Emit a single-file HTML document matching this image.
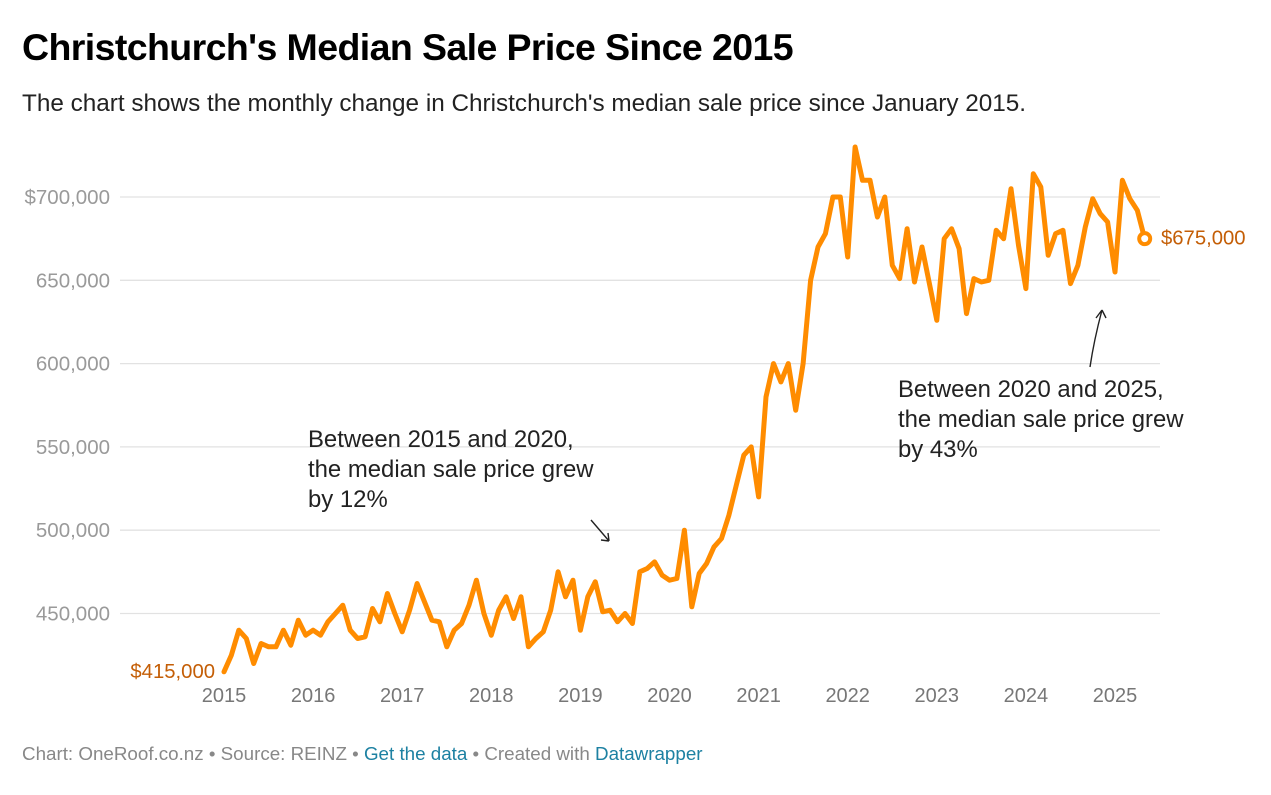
<!DOCTYPE html>
<html><head><meta charset="utf-8"><style>
body{margin:0;background:#fff;width:1271px;height:795px;overflow:hidden;font-family:"Liberation Sans",sans-serif}
#title{position:absolute;left:22px;top:26px;font-size:37.5px;font-weight:bold;color:#000;margin:0;letter-spacing:-0.6px;white-space:nowrap}
#sub{position:absolute;left:22px;top:90px;font-size:24.3px;color:#222;white-space:nowrap}
#foot{position:absolute;left:22px;top:743px;font-size:18.8px;color:#888;white-space:nowrap}
#foot a{color:#1d81a2;text-decoration:none}
</style></head><body>
<h1 id="title">Christchurch's Median Sale Price Since 2015</h1>
<div id="sub">The chart shows the monthly change in Christchurch's median sale price since January 2015.</div>
<svg id="chart" width="1271" height="795" style="position:absolute;left:0;top:0"></svg>
<div id="foot">Chart: OneRoof.co.nz • Source: REINZ • <a>Get the data</a> • Created with <a>Datawrapper</a></div>
<script>
const yTicks=[450000,500000,550000,600000,650000,700000];
const yTickLabels=["450,000","500,000","550,000","600,000","650,000","$700,000"];
const xYears=[2015,2016,2017,2018,2019,2020,2021,2022,2023,2024,2025];
const prices=[415,425,440,435,420,432,430,430,440,431,446,437,
440,437,445,450,455,440,435,436,453,445,462,450,
439,452,468,457,446,445,430,440,444,455,470,450,
437,452,460,447,460,430,435,439,452,475,460,470,
440,460,469,451,452,445,450,444,475,477,481,473,
470,471,500,454,474,480,490,495,509,527,545,550,
520,580,600,589,600,572,600,650,670,678,700,700,
664,730,710,710,688,700,659,651,681,649,670,648,
626,675,681,669,630,651,649,650,680,675,705,671,
645,714,706,665,678,680,648,659,682,699,690,685,
655,710,699,692,675];
const NS="http://www.w3.org/2000/svg";
const svg=document.getElementById('chart');
const x=i=>224+i*(1115-224)/120;
const y=v=>197+(700000-v)/50000*83.3;
function mk(t,a,txt){const e=document.createElementNS(NS,t);for(const k in a)e.setAttribute(k,a[k]);if(txt!==undefined)e.textContent=txt;svg.appendChild(e);return e;}
yTicks.forEach((v,i)=>{
 const g=mk('line',{x1:120,x2:1160,y1:y(v),y2:y(v),stroke:'#e2e2e2','stroke-width':1.3});
 
 
 const t=mk('text',{x:110,y:y(v)+7,'text-anchor':'end','font-size':20.5,fill:'#9a9a9a','font-family':'Liberation Sans,sans-serif'},yTickLabels[i]);
 
 
});
xYears.forEach((yr,i)=>{
 const t=mk('text',{x:x(i*12),y:702,'text-anchor':'middle','font-size':20,fill:'#777','font-family':'Liberation Sans,sans-serif'},yr);
 
 
});
const pts=prices.map((p,i)=>x(i).toFixed(1)+','+y(p*1000).toFixed(1)).join(' ');
const line=mk('polyline',{points:pts,fill:'none',stroke:'#ff8c00','stroke-width':5,'stroke-linejoin':'round','stroke-linecap':'round'});


const li=prices.length-1;
const dot=mk('circle',{cx:x(li),cy:y(prices[li]*1000),r:5.5,fill:'#fff',stroke:'#ff8c00','stroke-width':4});


const l1=mk('text',{x:215,y:y(prices[0]*1000)+6,'text-anchor':'end','font-size':20.3,fill:'#c45e06','font-family':'Liberation Sans,sans-serif'},'$'+prices[0]+',000');


const l2=mk('text',{x:1161,y:y(prices[li]*1000)+6,'font-size':20.3,fill:'#c45e06','font-family':'Liberation Sans,sans-serif'},'$'+prices[li]+',000');


[['Between 2015 and 2020,','the median sale price grew','by 12%',308,447],['Between 2020 and 2025,','the median sale price grew','by 43%',898,397]].forEach(a=>{
 for(let k=0;k<3;k++){const t=mk('text',{x:a[3],y:a[4]+k*30,'font-size':23.9,fill:'#222','font-family':'Liberation Sans,sans-serif'},a[k]);
 
 }
});
const a1=mk('path',{d:'M591 520 L609 541 M609 541 L601 540 M609 541 L608 533',fill:'none',stroke:'#222','stroke-width':1.4});


const a2=mk('path',{d:'M1090 367 Q1094 340 1102 310 M1102 310 L1096 318 M1102 310 L1106 318',fill:'none',stroke:'#222','stroke-width':1.4});


</script>
</body></html>
